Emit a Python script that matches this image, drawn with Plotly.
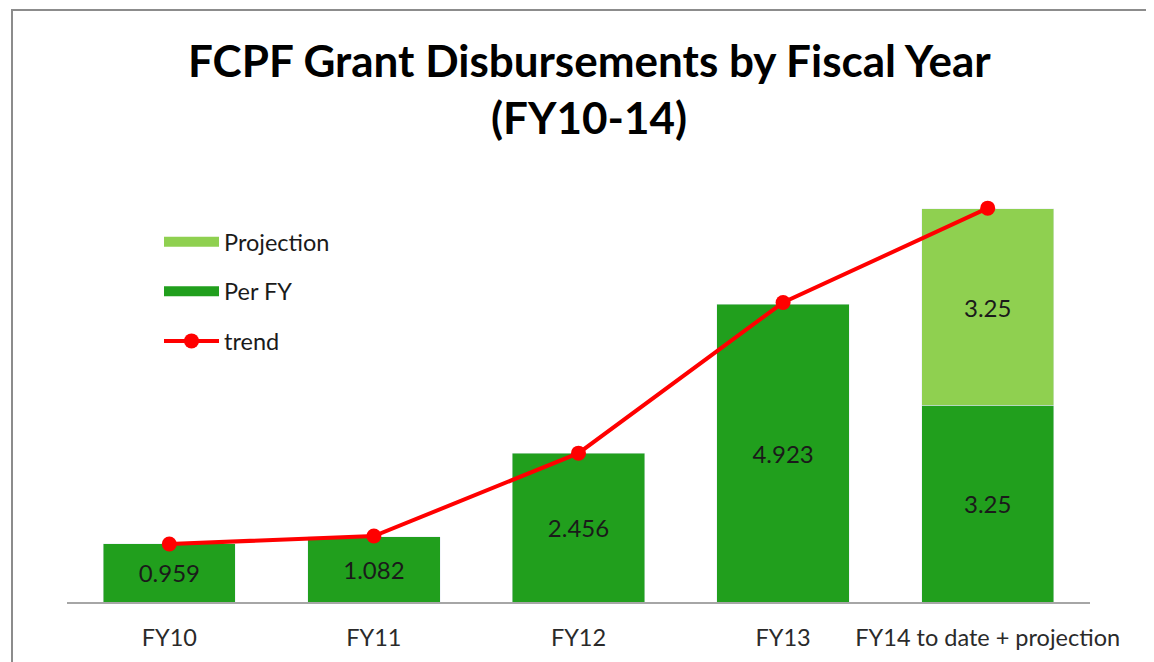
import plotly.graph_objects as go

categories = ["FY10", "FY11", "FY12", "FY13", "FY14 to date + projection"]
per_fy = [0.959, 1.082, 2.456, 4.923, 3.25]
projection = [None, None, None, None, 3.25]
trend = [0.959, 1.09, 2.46, 4.95, 6.51]

per_fy_text = ["0.959", "1.082", "2.456", "4.923", "3.25"]
proj_text = ["", "", "", "", "3.25"]

title_line1 = "FCPF Grant Disbursements by Fiscal Year"
title_line2 = "(FY10-14)"

DARK = "#219f1d"
LIGHT = "#8fd050"
FONT = "Lato"
TXT = "#1a1a1a"

# figure pixel geometry (page body has an 8px margin)
W, H = 1146, 654
L, R, T, B = 59, 64, 170, 60
PW, PH = W - L - R, H - T - B


def px(xp):
    return (xp - L) / PW


def py(yp):
    return (H - B - yp) / PH


fig = go.Figure()
fig.add_trace(go.Bar(
    x=categories, y=per_fy, name="Per FY", marker_color=DARK,
    text=per_fy_text, textposition="inside", insidetextanchor="middle",
    textfont=dict(size=24, color=TXT, family=FONT),
    showlegend=False, hoverinfo="x+y",
))
fig.add_trace(go.Bar(
    x=categories, y=projection, name="Projection", marker_color=LIGHT,
    text=proj_text, textposition="inside", insidetextanchor="middle",
    textfont=dict(size=24, color=TXT, family=FONT),
    showlegend=False, hoverinfo="x+y",
))
fig.add_trace(go.Scatter(
    x=categories, y=trend, name="trend", mode="lines+markers",
    line=dict(color="#ff0000", width=4), marker=dict(size=15, color="#ff0000"),
    legendgroup="c", legendrank=3,
))
# legend swatches for the bar series
fig.add_trace(go.Scatter(
    x=[None], y=[None], name="Projection", mode="lines",
    line=dict(color=LIGHT, width=14), legendgroup="a", legendrank=1,
))
fig.add_trace(go.Scatter(
    x=[None], y=[None], name="Per FY", mode="lines",
    line=dict(color=DARK, width=14), legendgroup="b", legendrank=2,
))

fig.update_layout(
    width=W, height=H,
    barmode="stack", bargap=0.353,
    paper_bgcolor="white", plot_bgcolor="white",
    margin=dict(l=L, r=R, t=T, b=B),
    showlegend=True,
    legend=dict(
        x=px(151), y=py(212), xanchor="left", yanchor="top",
        traceorder="grouped", tracegroupgap=16,
        font=dict(family=FONT, size=23.5, color=TXT),
        bgcolor="rgba(0,0,0,0)", itemwidth=55,
    ),
    font=dict(family=FONT),
    xaxis=dict(
        showline=True, linecolor="#a6a6a6", linewidth=2,
        ticks="", ticklabelstandoff=14,
        tickfont=dict(family=FONT, size=23.5, color="#2a2a2a"),
        showgrid=False,
    ),
    yaxis=dict(range=[0, PH / 60.5], visible=False, showgrid=False),
    annotations=[
        dict(text=title_line1, xref="paper", yref="paper", x=px(581), y=py(52),
             xanchor="center", yanchor="middle", showarrow=False,
             font=dict(family=FONT, size=44, color="#000000", weight="bold")),
        dict(text=title_line2, xref="paper", yref="paper", x=px(581), y=py(109),
             xanchor="center", yanchor="middle", showarrow=False,
             font=dict(family=FONT, size=44, color="#000000", weight="bold")),
    ],
    shapes=[dict(
        type="rect", xref="paper", yref="paper",
        x0=px(4), x1=px(1170), y0=py(680), y1=py(2),
        line=dict(color="#8c8c8c", width=2), fillcolor="rgba(0,0,0,0)", layer="below",
    )],
)

fig.write_html("out.html")
